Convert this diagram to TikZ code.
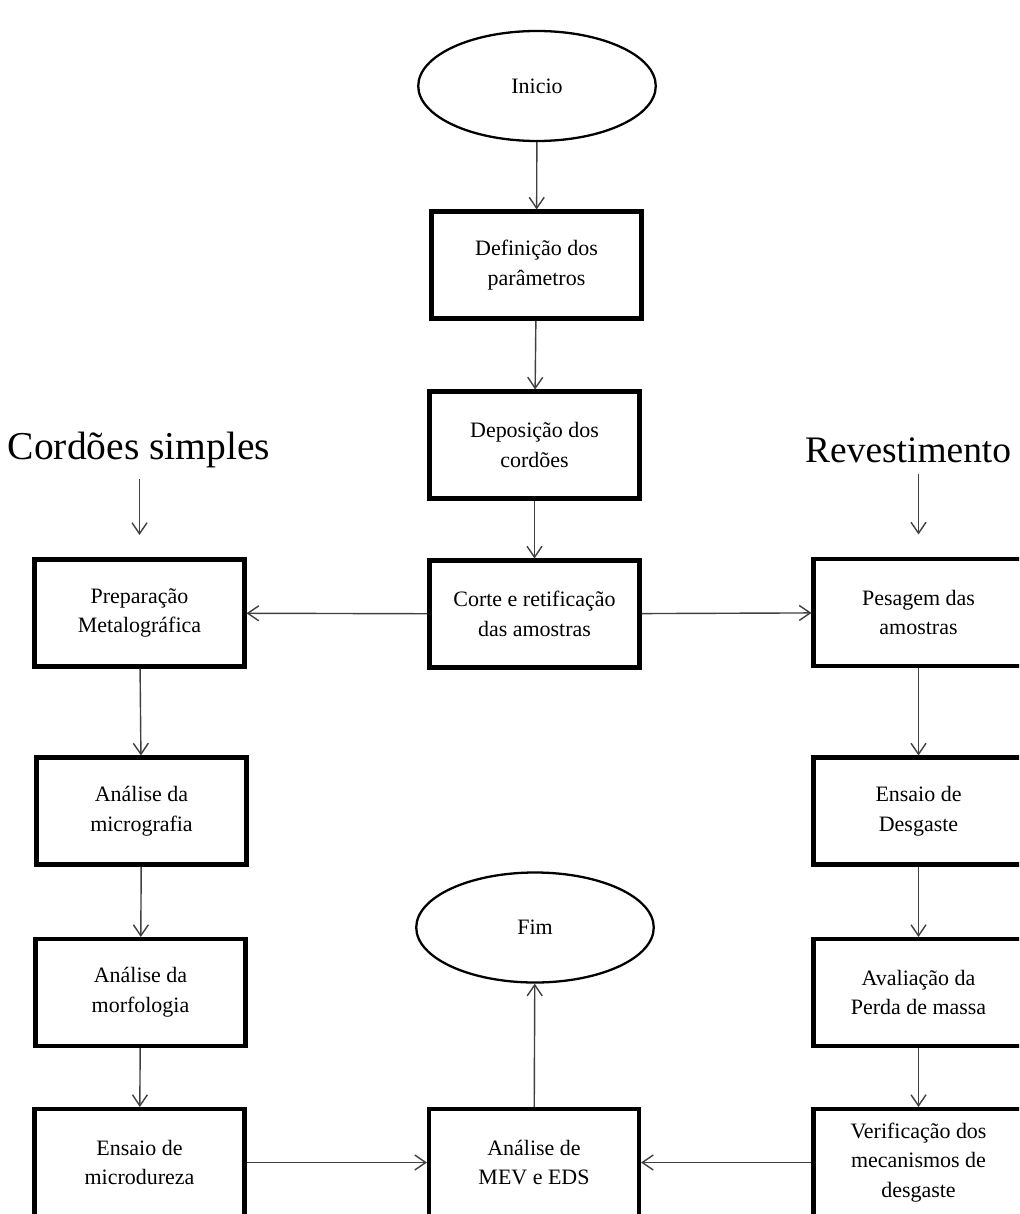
\documentclass[tikz,border=0pt]{standalone}
\usepackage{fontspec}
\setmainfont{Liberation Serif}
\usetikzlibrary{shapes.geometric,arrows.meta}

\tikzset{
caixa/.style={draw,line width=2.3pt,minimum width=4.2cm,minimum height=2.14cm,align=center,font=\fontsize{12.5}{17}\selectfont},
oval/.style={draw,ellipse,line width=1.3pt,minimum width=4.75cm,minimum height=2.2cm,font=\fontsize{12.5}{17}\selectfont},
seta/.style={draw=black!75,line width=0.8pt,-{Straight Barb[length=2.2mm,width=3mm]}},
titulo/.style={font=\fontsize{22.5}{27}\selectfont}
}

\begin{document}
\begin{tikzpicture}
\clip (0,0) rectangle (20.38,-24.28);
% coluna central
\node[oval] at (10.74,-1.72) (ini){Inicio};
\node[caixa] at (10.73,-5.3) (def){Definição dos\\parâmetros};
\node[caixa] at (10.69,-8.9) (dep){Deposição dos\\cordões};
\node[caixa] at (10.69,-12.28) (cor){Corte e retificação\\das amostras};
\node[oval] at (10.7,-18.55) (fim){Fim};
\node[caixa] at (10.68,-23.25) (mev){Análise de\\MEV e EDS};
% cordões simples
\node[titulo] at (2.78,-9.0) (cord){Cordões simples};
\node[caixa] at (2.79,-12.26) (prep){Preparação\\Metalográfica};
\node[caixa] at (2.83,-16.22) (mic){Análise da\\micrografia};
\node[caixa] at (2.81,-19.85) (mor){Análise da\\morfologia};
\node[caixa] at (2.79,-23.25) (dur){Ensaio de\\microdureza};
% revestimento
\node[titulo,anchor=west,font=\fontsize{21.3}{27}\selectfont] at (15.98,-9.0) (rev){Revestimento};
\node[caixa] at (18.37,-12.25) (pes){Pesagem das\\amostras};
\node[caixa] at (18.37,-16.22) (des){Ensaio de\\Desgaste};
\node[caixa] at (18.37,-19.85) (ava){Avaliação da\\Perda de massa};
\node[caixa] at (18.37,-23.25) (ver){Verificação dos\\mecanismos de\\desgaste};

\draw[seta] (ini)--(def);
\draw[seta] (def)--(dep);
\draw[seta] (dep)--(cor);
\draw[seta] (cor)--(prep);
\draw[seta] (cor)--(pes);
\draw[seta,shorten <=0.1cm,shorten >=0.45cm] (cord.south -| prep.north)--(prep.north);
\draw[seta,shorten <=0.1cm,shorten >=0.45cm] (rev.south -| pes.north)--(pes.north);
\foreach \a/\b in {prep/mic,mic/mor,mor/dur,pes/des,des/ava,ava/ver}{
\draw[seta] (\a)--(\b);
}
\draw[seta] (dur)--(mev);
\draw[seta] (ver)--(mev);
\draw[seta] (mev)--(fim);
\end{tikzpicture}
\end{document}
